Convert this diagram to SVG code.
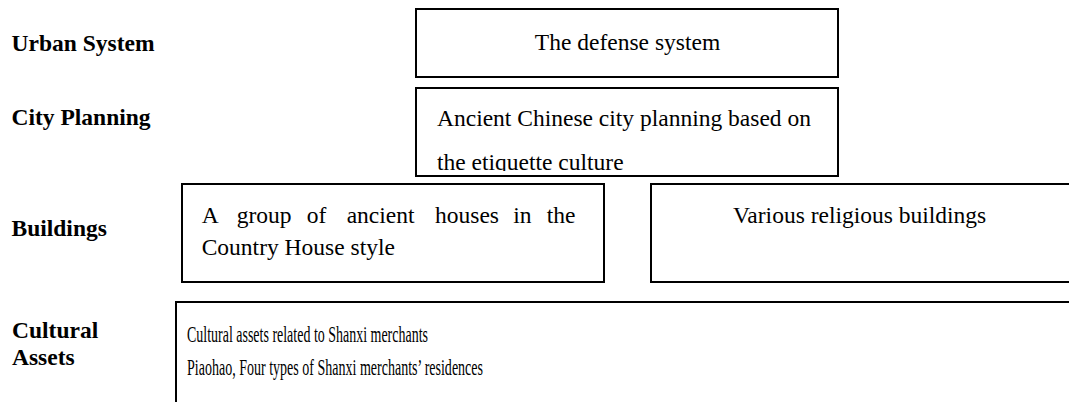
<svg xmlns="http://www.w3.org/2000/svg" width="1069" height="402" viewBox="0 0 1069 402">
<style>
.box{fill:#fff;stroke:#000;stroke-width:2}
.lbl{font-family:"Liberation Serif","Times New Roman",serif;font-weight:bold;font-size:23.5px;fill:#000}
.t{font-family:"Liberation Serif","Times New Roman",serif;font-size:23.5px;fill:#000}
</style>
<defs>
<clipPath id="clipCity"><rect x="416" y="88" width="422" height="83"/></clipPath>
</defs>
<rect width="1069" height="402" fill="#fff"/>
<g id="labels">
<text class="lbl" x="11.5" y="51">Urban System</text>
<text class="lbl" x="11.5" y="125">City Planning</text>
<text class="lbl" x="11.5" y="236">Buildings</text>
<text class="lbl" x="12" y="338">Cultural</text>
<text class="lbl" x="12" y="365">Assets</text>
</g>
<g id="defense">
<rect class="box" x="416" y="9" width="422" height="68"/>
<text class="t" x="627.5" y="50" text-anchor="middle">The defense system</text>
</g>
<g id="city-planning">
<rect class="box" x="416" y="88" width="422" height="88"/>
<g clip-path="url(#clipCity)">
<text class="t" x="437" y="126">Ancient Chinese city planning based on</text>
<text class="t" x="437" y="170">the etiquette culture</text>
</g>
</g>
<g id="houses">
<rect class="box" x="182" y="184" width="422" height="98"/>
<text class="t" y="223"><tspan x="201.7">A</tspan><tspan x="236.7">group</tspan><tspan x="306.7">of</tspan><tspan x="346.7">ancient</tspan><tspan x="435">houses</tspan><tspan x="513.3">in</tspan><tspan x="546.7">the</tspan></text>
<text class="t" x="201.7" y="255">Country House style</text>
</g>
<g id="religious">
<rect class="box" x="651" y="184" width="500" height="98"/>
<text class="t" x="733" y="223">Various religious buildings</text>
</g>
<g id="cultural-assets">
<rect class="box" x="176" y="302" width="1000" height="200"/>
<text class="t" transform="translate(187,342) scale(0.595,1)" x="0" y="0" textLength="405" lengthAdjust="spacingAndGlyphs">Cultural assets related to Shanxi merchants</text>
<text class="t" transform="translate(187,375) scale(0.595,1)" x="0" y="0" textLength="497.5" lengthAdjust="spacingAndGlyphs">Piaohao, Four types of Shanxi merchants’ residences</text>
</g>
<g id="connectors"/>
</svg>
